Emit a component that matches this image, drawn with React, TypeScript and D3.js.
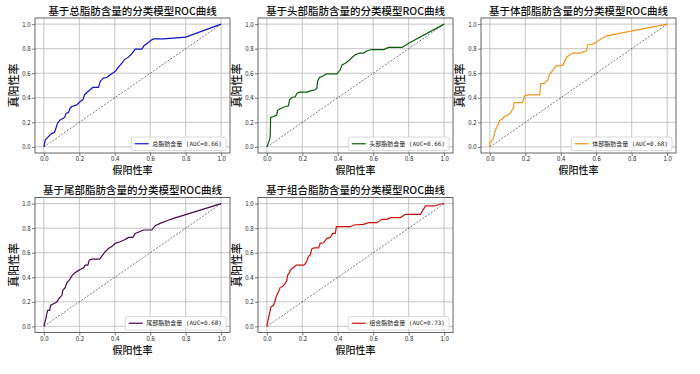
import { useEffect, useRef } from "react";
import * as d3 from "d3";

// ROC points (false positive rate / true positive rate)
const fprTotal = [0, 0.008, 0.026, 0.045, 0.06, 0.068, 0.077, 0.092, 0.117, 0.126, 0.139, 0.148, 0.158, 0.186, 0.205, 0.22, 0.229, 0.242, 0.261, 0.276, 0.308, 0.318, 0.336, 0.355, 0.374, 0.402, 0.421, 0.44, 0.453, 0.477, 0.496, 0.515, 0.553, 0.566, 0.585, 0.603, 0.618, 0.675, 0.8, 1]
const tprTotal = [0, 0.057, 0.084, 0.11, 0.117, 0.152, 0.193, 0.22, 0.24, 0.274, 0.28, 0.315, 0.329, 0.342, 0.37, 0.383, 0.424, 0.443, 0.465, 0.484, 0.484, 0.533, 0.56, 0.565, 0.587, 0.614, 0.65, 0.682, 0.709, 0.731, 0.758, 0.796, 0.796, 0.826, 0.845, 0.867, 0.88, 0.88, 0.894, 1]

const fprHead = [0, 0.015, 0.019, 0.021, 0.038, 0.047, 0.056, 0.06, 0.075, 0.094, 0.122, 0.128, 0.141, 0.16, 0.17, 0.185, 0.226, 0.241, 0.273, 0.282, 0.286, 0.297, 0.32, 0.335, 0.395, 0.414, 0.424, 0.443, 0.461, 0.48, 0.499, 0.522, 0.546, 0.565, 0.593, 0.659, 0.687, 0.763, 0.8, 1]
const tprHead = [0, 0.057, 0.084, 0.239, 0.247, 0.255, 0.26, 0.296, 0.31, 0.323, 0.334, 0.383, 0.402, 0.408, 0.438, 0.446, 0.446, 0.454, 0.465, 0.478, 0.533, 0.565, 0.579, 0.595, 0.595, 0.628, 0.668, 0.682, 0.701, 0.728, 0.75, 0.764, 0.764, 0.783, 0.793, 0.793, 0.81, 0.81, 0.845, 1]

const fprBody = [0, 0, 0.019, 0.028, 0.041, 0.056, 0.07, 0.081, 0.103, 0.117, 0.132, 0.137, 0.184, 0.197, 0.226, 0.282, 0.286, 0.31, 0.32, 0.329, 0.335, 0.357, 0.372, 0.395, 0.414, 0.432, 0.457, 0.466, 0.508, 0.545, 0.551, 0.573, 0.592, 0.62, 0.658, 1]
const tprBody = [0, 0.035, 0.0625, 0.125, 0.166, 0.215, 0.226, 0.247, 0.26, 0.28, 0.315, 0.361, 0.361, 0.418, 0.424, 0.424, 0.514, 0.519, 0.538, 0.546, 0.587, 0.628, 0.66, 0.66, 0.668, 0.731, 0.755, 0.764, 0.764, 0.783, 0.832, 0.832, 0.845, 0.872, 0.905, 1]

const fprTail = [0, 0.011, 0.021, 0.032, 0.039, 0.055, 0.073, 0.085, 0.102, 0.107, 0.12, 0.13, 0.143, 0.158, 0.173, 0.19, 0.205, 0.224, 0.233, 0.248, 0.256, 0.271, 0.314, 0.327, 0.346, 0.365, 0.387, 0.402, 0.43, 0.453, 0.477, 0.502, 0.515, 0.539, 0.562, 0.609, 0.628, 0.656, 0.694, 0.731, 0.8, 1]
const tprTail = [0, 0.063, 0.131, 0.131, 0.172, 0.185, 0.199, 0.226, 0.253, 0.294, 0.316, 0.357, 0.376, 0.411, 0.436, 0.45, 0.463, 0.477, 0.499, 0.499, 0.54, 0.548, 0.548, 0.572, 0.608, 0.635, 0.654, 0.676, 0.689, 0.703, 0.725, 0.725, 0.757, 0.771, 0.785, 0.785, 0.82, 0.839, 0.861, 0.88, 0.91, 1]

const fprCombo = [0, 0.006, 0.015, 0.023, 0.038, 0.047, 0.056, 0.066, 0.075, 0.09, 0.1, 0.113, 0.117, 0.126, 0.137, 0.151, 0.166, 0.207, 0.217, 0.226, 0.235, 0.245, 0.254, 0.267, 0.292, 0.301, 0.32, 0.339, 0.358, 0.371, 0.386, 0.392, 0.471, 0.49, 0.546, 0.574, 0.621, 0.65, 0.678, 0.697, 0.753, 0.782, 0.866, 0.895, 0.945, 0.98, 1]
const tprCombo = [0, 0.049, 0.104, 0.158, 0.172, 0.213, 0.253, 0.281, 0.316, 0.327, 0.343, 0.376, 0.417, 0.436, 0.466, 0.48, 0.499, 0.499, 0.51, 0.537, 0.57, 0.583, 0.632, 0.64, 0.64, 0.676, 0.681, 0.717, 0.725, 0.758, 0.758, 0.812, 0.812, 0.826, 0.831, 0.845, 0.845, 0.872, 0.872, 0.886, 0.886, 0.913, 0.913, 0.981, 0.981, 0.997, 1]

const names = ["总脂肪含量", "头部脂肪含量", "体部脂肪含量", "尾部脂肪含量", "组合脂肪含量"]
const aucs = ["0.66", "0.66", "0.68", "0.68", "0.73"]
const colors = ["#1010d0", "#0d5a0d", "#f0961e", "#4a0a4a", "#d01010"]
const fprs = [fprTotal, fprHead, fprBody, fprTail, fprCombo]
const tprs = [tprTotal, tprHead, tprBody, tprTail, tprCombo]
const ticks = [0, 0.2, 0.4, 0.6, 0.8, 1.0]

const FONT = "'Noto Sans CJK SC', 'Noto Sans', sans-serif"
const MONO = "'DejaVu Sans Mono', 'Noto Sans CJK SC', monospace"

export default function App() {
    const ref = useRef<SVGSVGElement>(null)

    useEffect(() => {
        if (!ref.current) return
        const svg = d3.select(ref.current)
        svg.selectAll("*").remove()

        const pw = 195
        const ph = 135
        const lefts = [35, 258, 481, 35, 258]
        const tops = [18, 18, 18, 197.5, 197.5]

        names.forEach((name, i) => {
            const g = svg.append("g").attr("transform", `translate(${lefts[i]}, ${tops[i]})`)
            const x = d3.scaleLinear().domain([-0.05, 1.05]).range([0, pw])
            const y = d3.scaleLinear().domain([-0.05, 1.05]).range([ph, 0])

            // grid
            g.append("g").selectAll("line").data(ticks).join("line")
                .attr("x1", (d) => x(d)).attr("x2", (d) => x(d))
                .attr("y1", 0).attr("y2", ph)
                .attr("stroke", "#b8b8b8").attr("stroke-width", 0.8)
            g.append("g").selectAll("line").data(ticks).join("line")
                .attr("y1", (d) => y(d)).attr("y2", (d) => y(d))
                .attr("x1", 0).attr("x2", pw)
                .attr("stroke", "#b8b8b8").attr("stroke-width", 0.8)

            // diagonal
            g.append("line")
                .attr("x1", x(0)).attr("y1", y(0)).attr("x2", x(1)).attr("y2", y(1))
                .attr("stroke", "#222").attr("stroke-width", 0.6)
                .attr("stroke-dasharray", "2,1.5")

            const pts = fprs[i].map((f, k) => [f, tprs[i][k]] as [number, number])
            const line = d3.line<[number, number]>().x((d) => x(d[0])).y((d) => y(d[1]))
            g.append("path").datum(pts)
                .attr("fill", "none").attr("stroke", colors[i]).attr("stroke-width", 1.2)
                .attr("d", line)

            // axes
            const xAxis = d3.axisBottom(x).tickValues(ticks).tickSize(3).tickSizeOuter(0).tickFormat(d3.format(".1f"))
            const yAxis = d3.axisLeft(y).tickValues(ticks).tickSize(3).tickSizeOuter(0).tickFormat(d3.format(".1f"))
            const gx = g.append("g").attr("transform", `translate(0, ${ph})`).call(xAxis)
            const gy = g.append("g").call(yAxis)
            for (const ax of [gx, gy]) {
                ax.select(".domain").remove()
                ax.selectAll("line").attr("stroke", "#444").attr("stroke-width", 0.7)
                ax.selectAll("text").attr("font-family", FONT).attr("font-size", 6).attr("fill", "#222")
            }
            gx.selectAll("text").attr("dy", "0.75em").attr("y", 3.5)
            gy.selectAll("text").attr("x", -4.5)

            g.append("rect").attr("width", pw).attr("height", ph)
                .attr("fill", "none").attr("stroke", "#555").attr("stroke-width", 0.9)

            // titles and labels
            g.append("text").attr("x", pw / 2).attr("y", -3.5)
                .attr("text-anchor", "middle").attr("font-family", FONT)
                .attr("font-size", 10.5).attr("font-weight", 500).attr("fill", "#111")
                .text(`基于${name}的分类模型ROC曲线`)
            g.append("text").attr("x", pw / 2).attr("y", ph + 21)
                .attr("text-anchor", "middle").attr("font-family", FONT)
                .attr("font-size", 10).attr("font-weight", 500).attr("fill", "#111")
                .text("假阳性率")
            g.append("text")
                .attr("transform", `translate(-17.5, ${ph / 2}) rotate(-90)`)
                .attr("text-anchor", "middle").attr("font-family", FONT)
                .attr("font-size", 11).attr("font-weight", 500).attr("fill", "#111")
                .text("真阳性率")

            // legend
            const lg = g.append("g")
            const box = lg.append("rect")
            const txt = lg.append("text").attr("font-family", MONO).attr("font-size", 6).attr("fill", "#222")
                .text(`${name} (AUC=${aucs[i]})`)
            const tw = (txt.node() as SVGTextElement).getComputedTextLength()
            const bw = tw + 25
            const bh = 13.5
            const bx = pw - 4 - bw
            const by = ph - 2.5 - bh
            box.attr("x", bx).attr("y", by).attr("width", bw).attr("height", bh).attr("rx", 2)
                .attr("fill", "#fff").attr("fill-opacity", 0.85).attr("stroke", "#d0d0d0").attr("stroke-width", 0.8)
            lg.append("line").attr("x1", bx + 3.5).attr("x2", bx + 17.5)
                .attr("y1", by + bh / 2).attr("y2", by + bh / 2)
                .attr("stroke", colors[i]).attr("stroke-width", 1.2)
            txt.attr("x", bx + 21).attr("y", by + bh / 2).attr("dy", "0.35em")
        })
    }, [])

    return (
        <svg ref={ref} width={700} height={374}
            style={{ position: "absolute", left: 0, top: 0, background: "#fff", display: "block" }}></svg>
    )
}
